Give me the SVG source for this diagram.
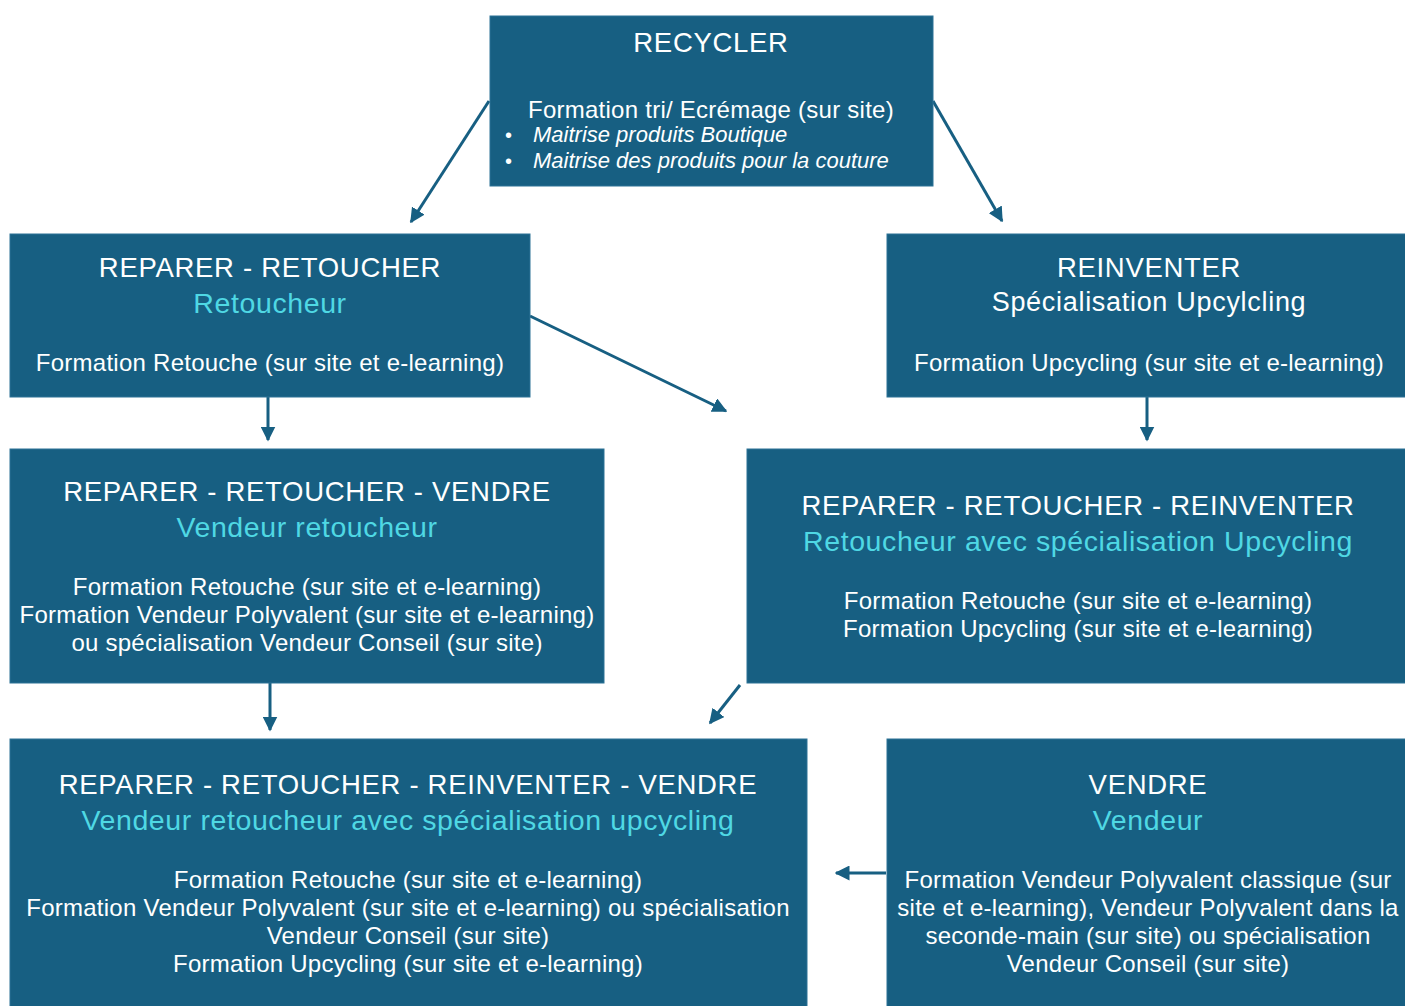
<svg xmlns="http://www.w3.org/2000/svg" width="1405" height="1006" viewBox="0 0 1405 1006">
<style>
.box{fill:#175F82;stroke:#2C7396;stroke-width:1}
text{font-family:"Liberation Sans",Arial,sans-serif;fill:#FFFFFF;text-anchor:middle}
.t{font-size:27.5px;letter-spacing:0.7px}
.s{font-size:27px;letter-spacing:0.7px}
.c{font-size:28.5px;letter-spacing:0.6px;fill:#4FD8E4}
.b{font-size:24px;letter-spacing:0.25px}
.i{font-size:22px;font-style:italic;text-anchor:start}
.d{font-size:20px;text-anchor:start}
.con{stroke:#175F82;stroke-width:3;fill:none;marker-end:url(#ah)}
</style>
<defs>
<marker id="ah" viewBox="0 0 10 10" refX="9" refY="5" markerWidth="5" markerHeight="5" orient="auto" markerUnits="strokeWidth">
<path d="M0,0 L10,5 L0,10 z" fill="#175F82"/>
</marker>
</defs>
<rect width="1405" height="1006" fill="#FFFFFF"/>
<g id="connectors">
<line class="con" x1="489" y1="101" x2="411" y2="222"/>
<line class="con" x1="933" y1="101" x2="1002" y2="221"/>
<line class="con" x1="530" y1="316" x2="726" y2="411"/>
<line class="con" x1="268" y1="397" x2="268" y2="440"/>
<line class="con" x1="1147" y1="397" x2="1147" y2="440"/>
<line class="con" x1="270" y1="683" x2="270" y2="730"/>
<line class="con" x1="740" y1="685" x2="710" y2="723"/>
<line class="con" x1="886" y1="873" x2="836" y2="873"/>
</g>
<g id="recycler">
<rect class="box" x="490" y="16" width="443" height="170"/>
<text class="t" x="711" y="52">RECYCLER</text>
<text class="b" x="711" y="118">Formation tri/ Ecrémage (sur site)</text>
<text class="d" x="505" y="142">•</text>
<text class="i" x="533" y="142">Maitrise produits Boutique</text>
<text class="d" x="505" y="168">•</text>
<text class="i" x="533" y="168">Maitrise des produits pour la couture</text>
</g>
<g id="reparer-retoucher">
<rect class="box" x="10" y="234" width="520" height="163"/>
<text class="t" x="270" y="277">REPARER - RETOUCHER</text>
<text class="c" x="270" y="313">Retoucheur</text>
<text class="b" x="270" y="371">Formation Retouche (sur site et e-learning)</text>
</g>
<g id="reinventer">
<rect class="box" x="887" y="234" width="520" height="163"/>
<text class="t" x="1149" y="277">REINVENTER</text>
<text class="s" x="1149" y="311">Spécialisation Upcylcling</text>
<text class="b" x="1149" y="371">Formation Upcycling (sur site et e-learning)</text>
</g>
<g id="reparer-retoucher-vendre">
<rect class="box" x="10" y="449" width="594" height="234"/>
<text class="t" x="307" y="501">REPARER - RETOUCHER - VENDRE</text>
<text class="c" x="307" y="537">Vendeur retoucheur</text>
<text class="b" x="307" y="595">Formation Retouche (sur site et e-learning)</text>
<text class="b" x="307" y="623">Formation Vendeur Polyvalent (sur site et e-learning)</text>
<text class="b" x="307" y="651">ou spécialisation Vendeur Conseil (sur site)</text>
</g>
<g id="reparer-retoucher-reinventer">
<rect class="box" x="747" y="449" width="660" height="234"/>
<text class="t" x="1078" y="515">REPARER - RETOUCHER - REINVENTER</text>
<text class="c" x="1078" y="551">Retoucheur avec spécialisation Upcycling</text>
<text class="b" x="1078" y="609">Formation Retouche (sur site et e-learning)</text>
<text class="b" x="1078" y="637">Formation Upcycling (sur site et e-learning)</text>
</g>
<g id="reparer-retoucher-reinventer-vendre">
<rect class="box" x="10" y="739" width="797" height="270"/>
<text class="t" x="408" y="794">REPARER - RETOUCHER - REINVENTER - VENDRE</text>
<text class="c" x="408" y="830">Vendeur retoucheur avec spécialisation upcycling</text>
<text class="b" x="408" y="888">Formation Retouche (sur site et e-learning)</text>
<text class="b" x="408" y="916">Formation Vendeur Polyvalent (sur site et e-learning) ou spécialisation</text>
<text class="b" x="408" y="944">Vendeur Conseil (sur site)</text>
<text class="b" x="408" y="972">Formation Upcycling (sur site et e-learning)</text>
</g>
<g id="vendre">
<rect class="box" x="887" y="739" width="520" height="270"/>
<text class="t" x="1148" y="794">VENDRE</text>
<text class="c" x="1148" y="830">Vendeur</text>
<text class="b" x="1148" y="888">Formation Vendeur Polyvalent classique (sur</text>
<text class="b" x="1148" y="916">site et e-learning), Vendeur Polyvalent dans la</text>
<text class="b" x="1148" y="944">seconde-main (sur site) ou spécialisation</text>
<text class="b" x="1148" y="972">Vendeur Conseil (sur site)</text>
</g>
</svg>
